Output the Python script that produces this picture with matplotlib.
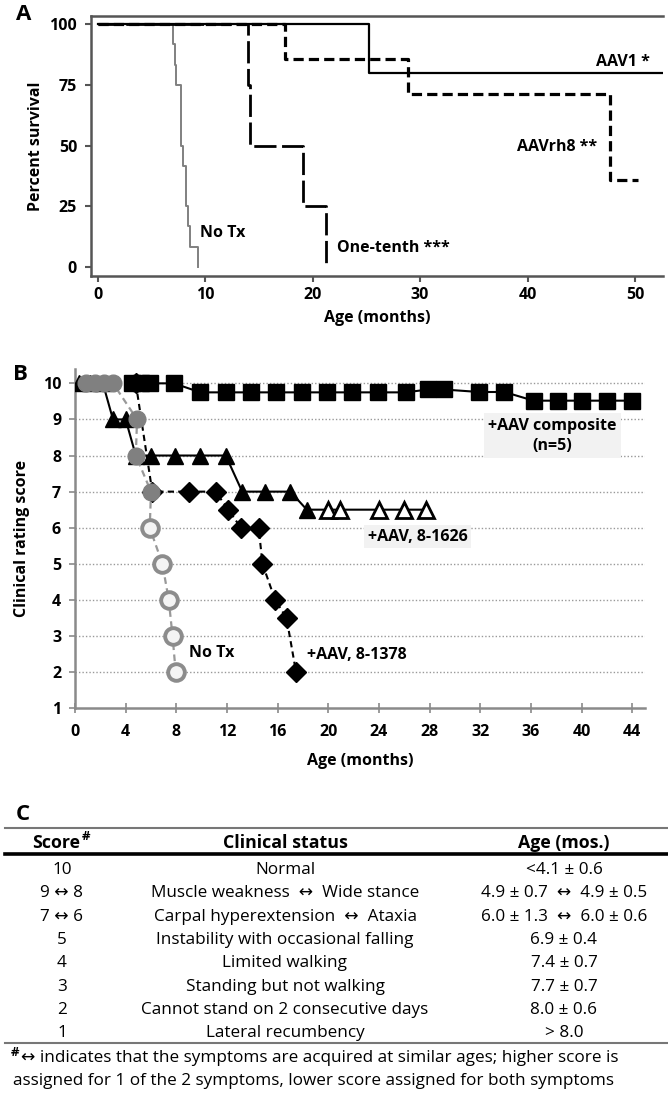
import matplotlib
matplotlib.use("Agg")
import matplotlib.pyplot as plt

plt.rcParams['font.family'] = ['Open Sans', 'DejaVu Sans']

W, H = 668, 1095
#data ---------------------------------------------------------------
# A: survival curves, step points (months, percent)
notx_t = [0, 7.0, 7.2, 7.3, 7.8, 7.95, 8.2, 8.4, 8.6, 9.3]
notx_s = [100, 91.7, 83.3, 75, 50, 41.7, 25, 16.7, 8.3, 0]
tenth_t = [0, 14.0, 14.15, 19.1, 21.2]
tenth_s = [100, 75, 50, 25, 0]
aav1_t = [0, 25.2, 52.6]
aav1_s = [100, 80, 80]
rh8_t = [0, 17.4, 28.9, 47.7, 50.3]
rh8_s = [100, 85.7, 71.4, 35.7, 35.7]

# B: clinical rating score vs age
comp_x = [4.5, 5.2, 5.9, 7.8, 9.9, 11.9, 13.9, 15.9, 17.9, 19.9, 21.9, 23.9,
          26.1, 27.9, 29.1, 31.9, 33.9, 36.2, 38.1, 40.0, 42.0, 44.0]
comp_y = [10, 10, 10, 10, 9.75, 9.75, 9.75, 9.75, 9.75, 9.75, 9.75, 9.75,
          9.75, 9.83, 9.83, 9.76, 9.76, 9.52, 9.52, 9.52, 9.52, 9.52]
tri_x = [0.3, 1.2, 2.2, 3.0, 4.0, 4.8, 6.0, 7.9, 9.9, 11.9, 13.2, 15.0, 17.0,
         18.3, 20.0, 20.9, 24.0, 26.0, 27.7]
tri_y = [10, 10, 10, 9, 9, 8, 8, 8, 8, 8, 7, 7, 7, 6.5, 6.5, 6.5, 6.5, 6.5, 6.5]
tri_open = [False] * 14 + [True] * 5
dia_x = [4.8, 6.1, 9.0, 11.1, 12.1, 13.1, 14.5, 14.8, 15.8, 16.7, 17.45]
dia_y = [10, 7, 7, 7, 6.5, 6, 6, 5, 4, 3.5, 2]
circ_x = [0.9, 1.6, 2.3, 3.0, 4.9, 4.8, 6.0, 5.9, 6.9, 7.4, 7.7, 7.95]
circ_y = [10, 10, 10, 10, 9, 8, 7, 6, 5, 4, 3, 2]
circ_open = [False] * 7 + [True] * 5

# C: score table
scores = ["10", "9 \u2194 8", "7 \u2194 6", "5", "4", "3", "2", "1"]
statuses = ["Normal",
            "Muscle weakness  \u2194  Wide stance",
            "Carpal hyperextension  \u2194  Ataxia",
            "Instability with occasional falling",
            "Limited walking",
            "Standing but not walking",
            "Cannot stand on 2 consecutive days",
            "Lateral recumbency"]
ages = ["<4.1 \u00b1 0.6",
        "4.9 \u00b1 0.7  \u2194  4.9 \u00b1 0.5",
        "6.0 \u00b1 1.3  \u2194  6.0 \u00b1 0.6",
        "6.9 \u00b1 0.4", "7.4 \u00b1 0.7", "7.7 \u00b1 0.7",
        "8.0 \u00b1 0.6", "> 8.0"]
#--------------------------------------------------------------------


def box(l, t, r, b):
    return [l / W, 1 - b / H, (r - l) / W, (b - t) / H]


fig = plt.figure(figsize=(W / 100, H / 100), dpi=100)
kw = dict(fontsize=11.5, fontweight='bold')

# ---- panel A
axA = fig.add_axes(box(91, 16, 663, 276))
axA.plot(notx_t, notx_s, drawstyle='steps-post', color='#808080', lw=1.4, zorder=2)
axA.plot(tenth_t, tenth_s, drawstyle='steps-post', color='black', lw=2.0,
         linestyle=(0, (8, 2)), zorder=3)
axA.plot(rh8_t, rh8_s, drawstyle='steps-post', color='black', lw=2.3,
         linestyle=(0, (3.2, 1.6)), zorder=3)
axA.plot(aav1_t, aav1_s, drawstyle='steps-post', color='black', lw=1.6, zorder=4)
axA.set_xlim(-0.62, 52.6)
axA.set_ylim(-3.7, 103.3)
axA.set_xticks([0, 10, 20, 30, 40, 50])
axA.set_yticks([0, 25, 50, 75, 100])
axA.spines['right'].set_visible(False)
for s in ['left', 'top', 'bottom']:
    axA.spines[s].set_color('#555555')
    axA.spines[s].set_linewidth(1.8)
axA.tick_params(axis='x', length=4, width=1.5, color='#555555', labelsize=11.5, pad=4)
axA.tick_params(axis='y', length=4, width=1.5, color='#555555', labelsize=11.5, pad=6)
for lab in axA.get_xticklabels() + axA.get_yticklabels():
    lab.set_fontweight('bold')
axA.set_xlabel("Age (months)", labelpad=5, **kw)
axA.set_ylabel("Percent survival", labelpad=4, **kw)
axA.text(9.5, 14, "No Tx", va='center', **kw)
axA.text(22.3, 7.8, "One-tenth ***", va='center', **kw)
axA.text(42.75, 49.4, "AAVrh8 **", va='center', ha='center', **kw)
axA.text(51.4, 84.5, "AAV1 *", va='center', ha='right', **kw)

# ---- panel B
axB = fig.add_axes(box(75, 368.9, 645, 708.2))
axB.set_xlim(0, 45)
axB.set_ylim(1, 10.4)
for yv in range(2, 11):
    axB.axhline(yv, color='#999999', lw=1.0, linestyle=(0, (1, 1.5)), zorder=1)

axB.plot(comp_x, comp_y, color='black', lw=1.5, marker='s', ms=11,
         mfc='black', mec='black', zorder=3)

axB.plot(tri_x, tri_y, color='black', lw=1.5, zorder=4)
for x, y, o in zip(tri_x, tri_y, tri_open):
    axB.plot(x, y, marker='^', ms=12, mfc='white' if o else 'black',
             mec='black', mew=2.0 if o else 1, zorder=4)

axB.plot(dia_x, dia_y, color='black', lw=1.5, linestyle=(0, (3, 2)),
         marker='D', ms=10.5, mfc='black', mec='black', zorder=5)

axB.plot(circ_x, circ_y, color='#999999', lw=1.6, linestyle=(0, (3, 2)), zorder=6)
for x, y, o in zip(circ_x, circ_y, circ_open):
    axB.plot(x, y, marker='o', ms=12, mfc='#f4f4f4' if o else '#808080',
             mec='#8c8c8c' if o else '#808080', mew=2.8 if o else 1, zorder=6)

axB.set_xticks(range(0, 45, 4))
axB.set_yticks(range(1, 11))
axB.spines['right'].set_visible(False)
axB.spines['top'].set_visible(False)
for s in ['left', 'bottom']:
    axB.spines[s].set_color('#8a8a8a')
    axB.spines[s].set_linewidth(1.8)
axB.tick_params(axis='x', direction='inout', length=7, width=1.2, color='#8a8a8a',
                labelsize=11.5, pad=8)
axB.tick_params(axis='y', length=4, width=1.2, color='#8a8a8a', labelsize=11.5, pad=6)
for lab in axB.get_xticklabels() + axB.get_yticklabels():
    lab.set_fontweight('bold')
axB.set_xlabel("Age (months)", labelpad=9, **kw)
axB.set_ylabel("Clinical rating score", labelpad=9, **kw)
axB.text(37.7, 8.55, "+AAV composite\n(n=5)", ha='center', va='center',
         linespacing=1.35, bbox=dict(fc='#f2f2f2', ec='none', pad=3), zorder=7, **kw)
axB.text(27.05, 5.75, "+AAV, 8-1626", ha='center', va='center',
         bbox=dict(fc='#f2f2f2', ec='none', pad=2.5), zorder=7, **kw)
axB.text(18.3, 2.47, "+AAV, 8-1378", va='center', zorder=7, **kw)
axB.text(9.0, 2.53, "No Tx", va='center', zorder=7, **kw)

# ---- panel C table, laid out in pixel coordinates
ov = fig.add_axes([0, 0, 1, 1])
ov.set_xlim(0, W)
ov.set_ylim(H, 0)
ov.axis('off')
ov.patch.set_visible(False)

ov.text(24, 14, "A", fontsize=16, fontweight='bold', ha='center', va='center')
ov.text(20, 374, "B", fontsize=16, fontweight='bold', ha='center', va='center')
ov.text(23, 815, "C", fontsize=16, fontweight='bold', ha='center', va='center')

col_x = [62, 285, 564]
ov.plot([5, W], [827.7, 827.7], color='#777777', lw=1.5)
ov.plot([5, W], [854.3, 854.3], color='black', lw=2.6)
ov.plot([5, W], [1043.3, 1043.3], color='#777777', lw=1.5)
hk = dict(fontsize=12.8, fontweight='bold', ha='center', va='center')
ov.text(56, 843, "Score", **hk)
ov.text(86, 836, "#", fontsize=9.5, fontweight='bold', ha='center', va='center')
ov.text(col_x[1], 843, "Clinical status", **hk)
ov.text(col_x[2], 843, "Age (mos.)", **hk)
rk = dict(fontsize=12.3, ha='center', va='center')
for i, (sc, st, ag) in enumerate(zip(scores, statuses, ages)):
    y = 870 + 23.33 * i
    ov.text(col_x[0], y, sc, **rk)
    ov.text(col_x[1], y, st, **rk)
    ov.text(col_x[2], y, ag, **rk)

ov.text(11, 1053, "#", fontsize=9.5, fontweight='bold', va='center')
ov.text(21, 1058.3, "\u2194 indicates that the symptoms are acquired at similar ages; "
        "higher score is", fontsize=12.3, va='center')
ov.text(13, 1081, "assigned for 1 of the 2 symptoms, lower score assigned for both "
        "symptoms", fontsize=12.3, va='center')

fig.savefig("out.png", dpi=100)
